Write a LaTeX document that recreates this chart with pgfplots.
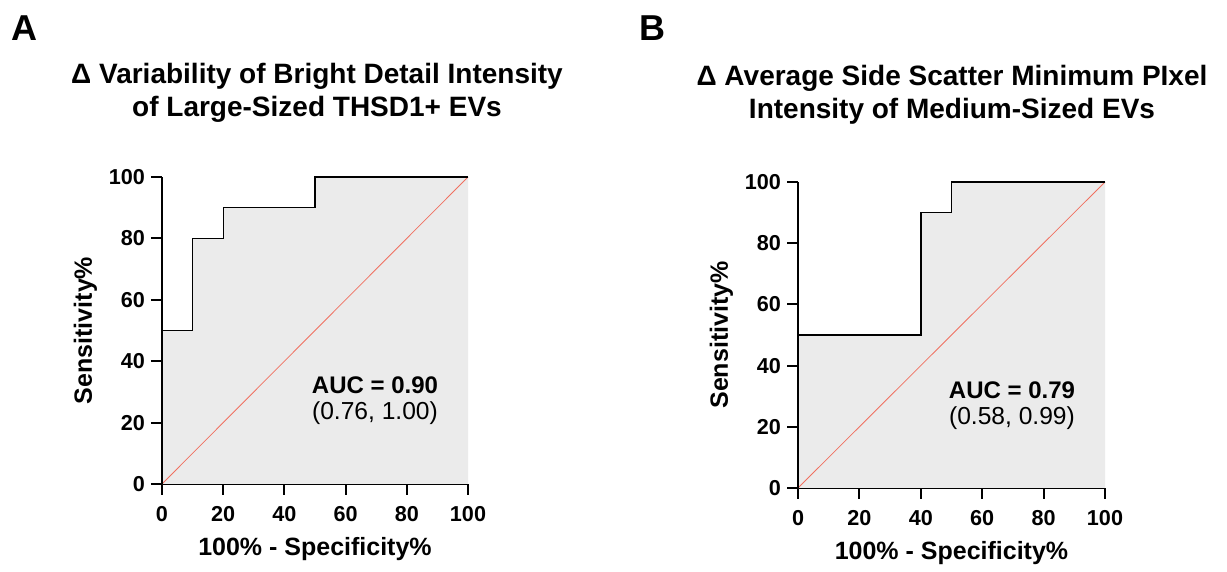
\documentclass[border=0pt]{standalone}
\usepackage{pgfplots}
\pgfplotsset{compat=1.18}
\usepackage{fontspec}
\setmainfont{Liberation Sans}
\definecolor{fillg}{HTML}{EBEBEB}
\definecolor{diag}{HTML}{F07060}
\pgfplotsset{
  rocax/.style={
    scale only axis,
    axis lines=left,
    axis line style={-, line width=1pt},
    xmin=0, xmax=100, ymin=0, ymax=100,
    xtick={0,20,...,100}, ytick={0,20,...,100},
    tick align=outside,
    major tick length=5.5pt,
    tick style={line width=1pt, black},
    /pgf/number format/assume math mode=true,
    ticklabel style={font=\fontsize{10.8}{12}\selectfont\bfseries},
    xticklabel style={yshift=-2pt},
    yticklabel style={xshift=0.5pt},
    label style={font=\fontsize{12.5}{14}\selectfont\bfseries},
    xlabel={100\% - Specificity\%},
    ylabel={Sensitivity\%},
    xlabel style={yshift=-1pt},
    ylabel style={yshift=-1pt},
    clip=false,
  }
}
\begin{document}
\begin{tikzpicture}
\path (0pt,0pt) rectangle (613.5pt,284.5pt);
% panel letters
\node[font=\fontsize{18}{20}\selectfont\bfseries] at (12pt,270.5pt) {A};
\node[font=\fontsize{18}{20}\selectfont\bfseries] at (326pt,270.5pt) {B};
% titles
\node[font=\fontsize{14}{16.5}\selectfont\bfseries, align=center] at (158.5pt,238pt) {Δ Variability of Bright Detail Intensity\\of Large-Sized THSD1+ EVs};
\node[font=\fontsize{14}{16.5}\selectfont\bfseries, align=center] at (476pt,237pt) {Δ Average Side Scatter Minimum PIxel\\Intensity of Medium-Sized EVs};
\begin{axis}[rocax, at={(81pt,42.5pt)}, anchor=south west, width=153pt, height=153.5pt]
\addplot[fill=fillg, draw=none] coordinates {(0,0) (0,50) (10,50) (10,80) (20,80) (20,90) (50,90) (50,100) (100,100) (100,0)} -- cycle;
\addplot[diag, line width=0.4pt] coordinates {(0,0) (100,100)};
\addplot[black, line width=0.7pt] coordinates {(0,0) (0,50) (10,50) (10,80) (20,80) (20,90) (50,90) (50,100) (100,100)};
\node[font=\fontsize{12}{14}\selectfont\bfseries] at (axis cs:69.6,32.3) {AUC = 0.90};
\node[font=\fontsize{12.3}{14}\selectfont] at (axis cs:69.6,23.2) {(0.76, 1.00)};
\end{axis}
\begin{axis}[rocax, at={(399pt,40.5pt)}, anchor=south west, width=153.5pt, height=153pt]
\addplot[fill=fillg, draw=none] coordinates {(0,0) (0,50) (40,50) (40,90) (50,90) (50,100) (100,100) (100,0)} -- cycle;
\addplot[diag, line width=0.4pt] coordinates {(0,0) (100,100)};
\addplot[black, line width=0.7pt] coordinates {(0,0) (0,50) (40,50) (40,90) (50,90) (50,100) (100,100)};
\node[font=\fontsize{12}{14}\selectfont\bfseries] at (axis cs:69.7,32) {AUC = 0.79};
\node[font=\fontsize{12.3}{14}\selectfont] at (axis cs:69.7,22.9) {(0.58, 0.99)};
\end{axis}
\end{tikzpicture}
\end{document}
